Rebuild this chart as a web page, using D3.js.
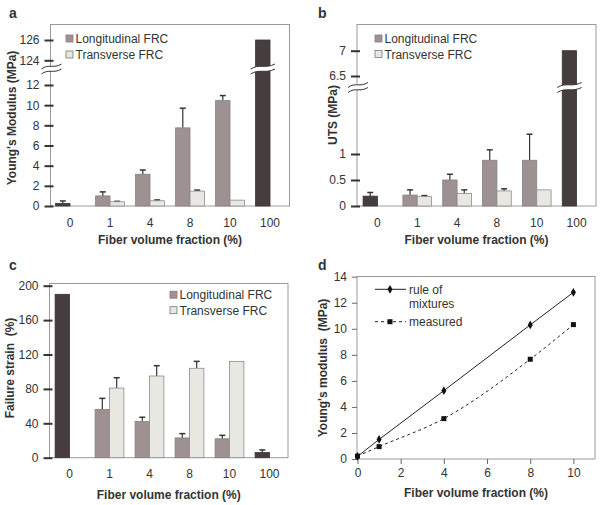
<!DOCTYPE html>
<html><head><meta charset="utf-8">
<script src="https://cdn.jsdelivr.net/npm/d3@7"></script>
<style>
html,body{margin:0;padding:0;background:#fff;}
svg text{font-family:"Liberation Sans",Arial,sans-serif;fill:#333;}
</style></head>
<body><svg id="c" width="604" height="505"></svg>
<script>
// ---------- data ----------
const categories = ["0","1","4","8","10","100"];
const seriesNames = ["Longitudinal FRC","Transverse FRC"];
// panel a : Young's modulus (MPa)
const modLong     = [0.25, 1.0, 3.15, 7.75, 10.45, 126];
const modLongErr  = [0.25, 0.4, 0.42, 1.95, 0.5, 0];
const modTrans    = [null, 0.42, 0.52, 1.48, 0.58, null];
const modTransErr = [null, 0.04, 0.08, 0.1, 0, null];
const modTicksLow = [0,2,4,6,8,10,12];
const modTicksHigh = [124,126];
// panel b : UTS (MPa)
const utsLong     = [0.19, 0.21, 0.5, 0.88, 0.88, 7.0];
const utsLongErr  = [0.07, 0.1, 0.11, 0.2, 0.5, 0];
const utsTrans    = [null, 0.18, 0.24, 0.29, 0.31, null];
const utsTransErr = [null, 0.02, 0.07, 0.04, 0, null];
const utsTicksLow = [0,0.5,1];
const utsTicksHigh = [6.5,7];
// panel c : failure strain (%)
const strainLong     = [190, 56, 42, 23, 22, 6];
const strainLongErr  = [0, 13, 5, 5, 4, 3];
const strainTrans    = [null, 81, 95, 104, 112, null];
const strainTransErr = [null, 12, 12, 8, 0, null];
const strainTicks = [0,40,80,120,160,200];
// panel d : modulus vs fiber fraction
const fvf = [0,1,4,8,10];
const ruleOfMixtures = [0.2,1.5,5.25,10.3,12.8];
const measured = [0.22,0.95,3.1,7.66,10.32];
const dXTicks = [0,2,4,6,8,10];
const dYTicks = [0,2,4,6,8,10,12,14];

// ---------- style ----------
const C_DARK="#463d3e", C_LONG="#9d9192", C_TRANS="#e9e7e2", C_FRAME="#9a9a9a", C_TEXT="#333";
const svg = d3.select("#c");
const fmt = d => String(d);

function frame(g,x0,x1,y0,y1){
  g.append("rect").attr("x",x0).attr("y",y0).attr("width",x1-x0).attr("height",y1-y0)
   .attr("fill","none").attr("stroke",C_FRAME).attr("stroke-width",1);
}
function styleLeftAxis(sel){
  sel.select(".domain").remove();
  sel.selectAll(".tick line").attr("x1",3).attr("stroke","#333").attr("stroke-width",2);
  sel.selectAll(".tick text").attr("font-size",12).style("fill",C_TEXT);
}
function wave(x0,x1,y){
  const w=x1-x0;
  return `M${x0},${y+2.5} C${x0+w*0.35},${y-3} ${x0+w*0.6},${y+2.5} ${x1},${y-2.5}`;
}
function breakMark(g,x0,x1,yTop,yBot){
  const w=x1-x0;
  const top=wave(x0,x1,yTop);
  const bot=`L${x1},${yBot-2.5} C${x0+w*0.6},${yBot+2.5} ${x0+w*0.35},${yBot-3} ${x0},${yBot+2.5} Z`;
  g.append("path").attr("d",top+bot).attr("fill","#fff").attr("stroke","none");
  g.append("path").attr("d",wave(x0,x1,yTop)).attr("fill","none").attr("stroke","#333").attr("stroke-width",1);
  g.append("path").attr("d",wave(x0,x1,yBot)).attr("fill","none").attr("stroke","#333").attr("stroke-width",1);
}

function barPanel(o){
  const g = svg.append("g");
  const x = d3.scaleBand().domain(categories).range([o.bx0,o.bx1]);
  const bw = x.bandwidth()*0.36;
  const yv = v => (o.yHigh && v>o.breakVal) ? o.yHigh(v) : o.yLow(v);
  frame(g,o.fx0,o.fx1,o.fy0,o.fy1);
  const center = c => x(c)+x.bandwidth()/2;
  const bars=[];
  categories.forEach((c,i)=>{
    const dark = (c==="0"||c==="100");
    if(o.long[i]!=null) bars.push({c,v:o.long[i],e:o.longErr[i],x:center(c)-bw,fill:dark?C_DARK:C_LONG,stroke:dark?"#3a3233":"#8a7e7f"});
    if(o.trans[i]!=null) bars.push({c,v:o.trans[i],e:o.transErr[i],x:center(c),fill:C_TRANS,stroke:"#8c8c8c"});
  });
  bars.filter(b=>b.e>0).forEach(b=>{
    const cx=b.x+bw/2;
    g.append("line").attr("x1",cx).attr("x2",cx).attr("y1",yv(b.v)).attr("y2",yv(b.v+b.e)).attr("stroke","#333").attr("stroke-width",1.2);
    g.append("line").attr("x1",cx-3).attr("x2",cx+3).attr("y1",yv(b.v+b.e)).attr("y2",yv(b.v+b.e)).attr("stroke","#333").attr("stroke-width",1.5);
  });
  g.selectAll("rect.bar").data(bars).enter().append("rect").attr("class","bar")
    .attr("x",d=>d.x).attr("width",bw).attr("y",d=>yv(d.v)).attr("height",d=>o.yLow(0)-yv(d.v))
    .attr("fill",d=>d.fill).attr("stroke",d=>d.stroke).attr("stroke-width",0.8);
  const ax = g.append("g").attr("transform",`translate(${o.fx0},0)`).call(d3.axisLeft(o.yLow).tickValues(o.ticksLow).tickFormat(fmt).tickSize(6).tickPadding(5));
  styleLeftAxis(ax);
  if(o.yHigh){
    const ax2 = g.append("g").attr("transform",`translate(${o.fx0},0)`).call(d3.axisLeft(o.yHigh).tickValues(o.ticksHigh).tickFormat(fmt).tickSize(6).tickPadding(5));
    styleLeftAxis(ax2);
    breakMark(g,o.fx0-9,o.fx0+11,o.brk[0],o.brk[1]);
    bars.filter(b=>b.v>o.breakVal).forEach(b=>breakMark(g,b.x-5,b.x+bw+5,o.brk[0],o.brk[1]));
  }
  const xa = g.append("g").attr("transform",`translate(0,${o.fy1})`).call(d3.axisBottom(x).tickSize(0).tickPadding(12));
  xa.select(".domain").remove();
  xa.selectAll(".tick text").attr("font-size",12).style("fill",C_TEXT);
  g.append("text").attr("x",(o.fx0+o.fx1)/2).attr("y",o.xtY).attr("text-anchor","middle").attr("font-size",12).attr("font-weight","bold").text("Fiber volume fraction (%)");
  g.append("text").attr("transform",`translate(${o.ytX},${o.ytY}) rotate(-90)`).attr("text-anchor","middle").attr("font-size",12).attr("font-weight","bold").attr("xml:space","preserve").text(o.ytitle);
  g.append("text").attr("x",o.lab[0]).attr("y",o.lab[1]).attr("font-size",14).attr("font-weight","bold").text(o.letter);
  seriesNames.forEach((s,i)=>{
    const ly=o.leg[1]+i*o.leg[2];
    g.append("rect").attr("x",o.leg[0]).attr("y",ly-3.5).attr("width",7).attr("height",7)
      .attr("fill",i===0?C_LONG:C_TRANS).attr("stroke",i===0?"#8a7e7f":"#777").attr("stroke-width",0.8);
    g.append("text").attr("x",o.leg[0]+9.5).attr("y",ly+4.5).attr("font-size",12).text(s);
  });
}

barPanel({letter:"a",lab:[9,18],bx0:50,bx1:290,fx0:50.5,fx1:289.5,fy0:24.5,fy1:206,
  yLow:d3.scaleLinear().domain([0,12]).range([206,85]),
  yHigh:d3.scaleLinear().domain([124,126]).range([60.3,40]),breakVal:50,
  ticksLow:modTicksLow,ticksHigh:modTicksHigh,brk:[66.5,71.5],
  long:modLong,longErr:modLongErr,trans:modTrans,transErr:modTransErr,
  ytitle:"Young's Modulus (MPa)",ytX:16,ytY:118,xtY:244,leg:[66,38.5,16]});
barPanel({letter:"b",lab:[318,18],bx0:357.5,bx1:596.5,fx0:357,fx1:596,fy0:24.5,fy1:206,
  yLow:d3.scaleLinear().domain([0,1]).range([206,154]),
  yHigh:d3.scaleLinear().domain([6.5,7]).range([76,50.7]),breakVal:3,
  ticksLow:utsTicksLow,ticksHigh:utsTicksHigh,brk:[85,90],
  long:utsLong,longErr:utsLongErr,trans:utsTrans,transErr:utsTransErr,
  ytitle:"UTS (MPa)",ytX:337,ytY:115,xtY:244,leg:[375,38.5,15.5]});
barPanel({letter:"c",lab:[9,270],bx0:49.5,bx1:289.5,fx0:49.5,fx1:288,fy0:283.5,fy1:457.7,
  yLow:d3.scaleLinear().domain([0,200]).range([457.7,285.7]),yHigh:null,
  ticksLow:strainTicks,
  long:strainLong,longErr:strainLongErr,trans:strainTrans,transErr:strainTransErr,
  ytitle:"Failure strain  (%)",ytX:14,ytY:368,xtY:499,leg:[170,294.7,15.5]});

(function(){
  const g=svg.append("g");
  const x=d3.scaleLinear().domain([0,11]).range([357.5,595]);
  const y=d3.scaleLinear().domain([0,14]).range([459,276.7]);
  frame(g,357,595,276.5,459);
  const xa=g.append("g").attr("transform","translate(0,459)").call(d3.axisBottom(x).tickValues(dXTicks).tickSize(5).tickPadding(4));
  xa.select(".domain").remove();
  xa.selectAll(".tick line").attr("stroke","#666");
  xa.selectAll(".tick text").attr("font-size",12).style("fill",C_TEXT);
  const ya=g.append("g").attr("transform","translate(357,0)").call(d3.axisLeft(y).tickValues(dYTicks).tickSize(5).tickPadding(5));
  ya.select(".domain").remove();
  ya.selectAll(".tick line").attr("stroke","#666");
  ya.selectAll(".tick text").attr("font-size",12).style("fill",C_TEXT);
  const pts1=fvf.map((f,i)=>[x(f),y(ruleOfMixtures[i])]);
  const pts2=fvf.map((f,i)=>[x(f),y(measured[i])]);
  g.append("path").attr("d",d3.line()(pts1)).attr("fill","none").attr("stroke","#222").attr("stroke-width",1);
  g.append("path").attr("d",d3.line().curve(d3.curveMonotoneX)(pts2)).attr("fill","none").attr("stroke","#222").attr("stroke-width",1).attr("stroke-dasharray","3,3");
  const diamond=d3.symbol().type(d3.symbolDiamond).size(22);
  g.selectAll("path.dm").data(pts1).enter().append("path").attr("class","dm").attr("d",diamond).attr("transform",d=>`translate(${d[0]},${d[1]})`).attr("fill","#111");
  g.selectAll("rect.sq").data(pts2).enter().append("rect").attr("class","sq").attr("x",d=>d[0]-2.5).attr("y",d=>d[1]-2.5).attr("width",5).attr("height",5).attr("fill","#111");
  g.append("line").attr("x1",375).attr("x2",406).attr("y1",289.3).attr("y2",289.3).attr("stroke","#222");
  g.append("path").attr("d",diamond).attr("transform","translate(390,289.3)").attr("fill","#111");
  g.append("text").attr("x",409).attr("y",293.5).attr("font-size",12).text("rule of");
  g.append("text").attr("x",409).attr("y",307.5).attr("font-size",12).text("mixtures");
  g.append("line").attr("x1",375).attr("x2",406).attr("y1",321.7).attr("y2",321.7).attr("stroke","#222").attr("stroke-dasharray","3,3");
  g.append("rect").attr("x",387.5).attr("y",319.2).attr("width",5).attr("height",5).attr("fill","#111");
  g.append("text").attr("x",409).attr("y",326).attr("font-size",12).text("measured");
  g.append("text").attr("x",476).attr("y",497).attr("text-anchor","middle").attr("font-size",12).attr("font-weight","bold").text("Fiber volume fraction (%)");
  g.append("text").attr("transform","translate(327,368) rotate(-90)").attr("text-anchor","middle").attr("font-size",12).attr("font-weight","bold").attr("xml:space","preserve").text("Young's modulus  (MPa)");
  g.append("text").attr("x",318).attr("y",270).attr("font-size",14).attr("font-weight","bold").text("d");
})();
</script></body></html>
